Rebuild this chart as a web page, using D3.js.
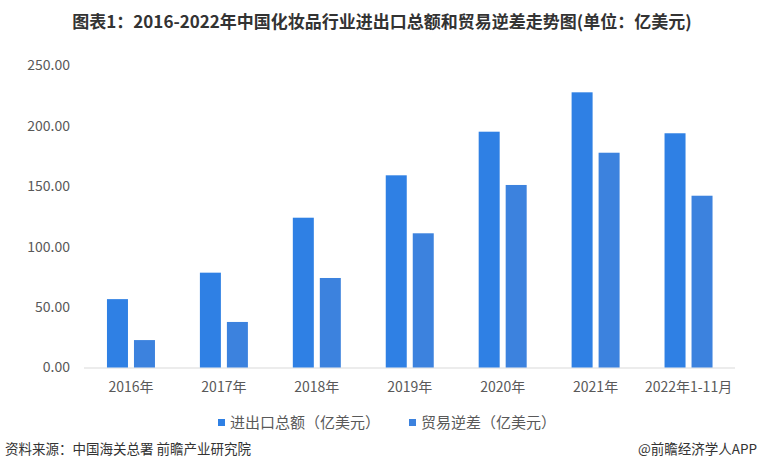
<!DOCTYPE html>
<html><head><meta charset="utf-8">
<script src="https://cdn.jsdelivr.net/npm/d3@7"></script>
<style>
body{margin:0;background:#fff;}
svg{display:block;font-family:"Noto Sans CJK SC","Noto Sans",sans-serif;}
</style></head>
<body><svg id="c" width="760" height="471"></svg>
<script>
const categories = ["2016年","2017年","2018年","2019年","2020年","2021年","2022年1-11月"];
const totalTrade = [56.6, 78.5, 124.0, 159.1, 195.2, 227.8, 193.9];
const tradeDeficit = [22.7, 37.7, 74.1, 111.1, 151.1, 177.8, 142.2];
const yTicks = [0, 50, 100, 150, 200, 250];
const seriesNames = ["进出口总额（亿美元）", "贸易逆差（亿美元）"];
const colors = ["#2f80e4", "#3c82de"];

const svg = d3.select("#c");
const x = d3.scaleBand().domain(categories).range([84.5, 735]);
const y = d3.scaleLinear().domain([0, 250]).range([367.5, 65.5]);
const barW = 21, gap = 6;

svg.append("text").attr("x", 382).attr("y", 28).attr("text-anchor", "middle")
  .attr("font-size", 17).attr("font-weight", "bold").attr("fill", "#333")
  .text("图表1：2016-2022年中国化妆品行业进出口总额和贸易逆差走势图(单位：亿美元)");

// y tick labels
svg.append("g").selectAll("text").data(yTicks).join("text")
  .attr("x", 70).attr("y", d => y(d)).attr("dy", "0.35em")
  .attr("text-anchor", "end").attr("font-size", 14).attr("fill", "#595959")
  .text(d => d3.format(".2f")(d));

// baseline
svg.append("line").attr("x1", 84).attr("x2", 735).attr("y1", y(0)+0.5).attr("y2", y(0)+0.5)
  .attr("stroke", "#d9d9d9").attr("stroke-width", 1);

const series = [totalTrade, tradeDeficit];
series.forEach((vals, si) => {
  svg.append("g").selectAll("rect").data(vals).join("rect")
    .attr("x", (d, i) => x(categories[i]) + x.bandwidth()/2 + (si === 0 ? -(barW + gap/2) : gap/2))
    .attr("width", barW)
    .attr("y", d => y(d))
    .attr("height", d => y(0) - y(d))
    .attr("fill", colors[si]);
});

// x labels
svg.append("g").selectAll("text").data(categories).join("text")
  .attr("x", d => x(d) + x.bandwidth()/2).attr("y", 392)
  .attr("text-anchor", "middle").attr("font-size", 14).attr("fill", "#595959")
  .text(d => d);

// legend
const legX = [218, 409];
seriesNames.forEach((n, i) => {
  svg.append("rect").attr("x", legX[i]).attr("y", 419).attr("width", 7).attr("height", 7).attr("fill", colors[i]);
  svg.append("text").attr("x", legX[i] + 12).attr("y", 423).attr("dy", "0.35em")
    .attr("font-size", 15).attr("fill", "#595959").text(n);
});

// footer
svg.append("text").attr("x", 5).attr("y", 454).attr("font-size", 13.5).attr("fill", "#333")
  .text("资料来源：中国海关总署 前瞻产业研究院");
svg.append("text").attr("x", 757).attr("y", 454).attr("text-anchor", "end").attr("font-size", 13.5).attr("fill", "#333")
  .text("@前瞻经济学人APP");
</script></body></html>
